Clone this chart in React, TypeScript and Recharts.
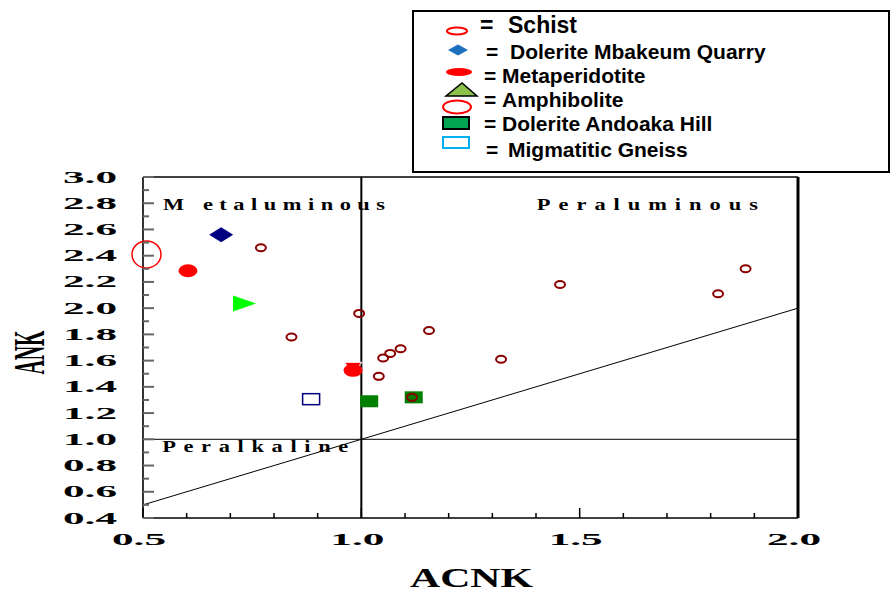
import React from 'react';
import {
  ScatterChart,
  Scatter,
  XAxis,
  YAxis,
  ReferenceLine,
  ReferenceDot,
} from 'recharts';

// ACNK vs ANK values
const schist = [
  { acnk: 0.77, ank: 2.46 },
  { acnk: 0.84, ank: 1.78 },
  { acnk: 0.995, ank: 1.96 },
  { acnk: 1.04, ank: 1.48 },
  { acnk: 1.05, ank: 1.62 },
  { acnk: 1.066, ank: 1.655 },
  { acnk: 1.09, ank: 1.69 },
  { acnk: 1.155, ank: 1.83 },
  { acnk: 1.116, ank: 1.32 },
  { acnk: 1.32, ank: 1.61 },
  { acnk: 1.455, ank: 2.18 },
  { acnk: 1.817, ank: 2.11 },
  { acnk: 1.88, ank: 2.3 },
];
const doleriteMbakeum = [{ acnk: 0.679, ank: 2.56 }];
const metaperidotite = [
  { acnk: 0.603, ank: 2.285 },
  { acnk: 0.981, ank: 1.526 },
];
const downTriangle = [{ acnk: 0.981, ank: 1.526 }];
const amphibolite = [{ acnk: 0.729, ank: 2.035 }];
const openEllipse = [{ acnk: 0.508, ank: 2.41 }];
const doleriteAndoaka = [
  { acnk: 1.018, ank: 1.29 },
  { acnk: 1.12, ank: 1.32 },
];
const migmatiticGneiss = [{ acnk: 0.885, ank: 1.306 }];

const xTicks = [0.5, 0.6, 0.7, 0.8, 0.9, 1.0, 1.1, 1.2, 1.3, 1.4, 1.5, 1.6, 1.7, 1.8, 1.9, 2.0];
const yTicks = [
  0.4, 0.5, 0.6, 0.7, 0.8, 0.9, 1.0, 1.1, 1.2, 1.3, 1.4, 1.5, 1.6, 1.7,
  1.8, 1.9, 2.0, 2.1, 2.2, 2.3, 2.4, 2.5, 2.6, 2.7, 2.8, 2.9, 3.0,
];
const boundary = [0.5, 2.0];

const SERIF = '"Liberation Serif", "Times New Roman", serif';
const SANS = '"Liberation Sans", Arial, sans-serif';

const LeftTick = (props: any) => {
  const { x, y, payload } = props;
  const v = payload.value;
  const major = Math.round(v * 10) % 2 === 0;
  return (
    <g>
      <line x1={x} y1={y} x2={x + (major ? 11 : 6)} y2={y} stroke="#666" strokeWidth={2} />
      {major && (
        <text
          x={x - 26}
          y={y + 5.5}
          textAnchor="end"
          textLength={54}
          lengthAdjust="spacingAndGlyphs"
          fontFamily={SERIF}
          fontWeight="bold"
          fontSize={16.5}
          fill="#000"
        >
          {v.toFixed(1)}
        </text>
      )}
    </g>
  );
};

const RightTick = (props: any) => {
  const { x, y, payload } = props;
  const major = Math.round(payload.value * 10) % 2 === 0;
  return <line x1={x} y1={y} x2={x - (major ? 12 : 6)} y2={y} stroke="#777" strokeWidth={2} />;
};

const BottomTick = (props: any) => {
  const { x, y, payload } = props;
  const v = payload.value;
  const major = Math.round(v * 10) % 5 === 0;
  return (
    <g>
      <line x1={x} y1={y} x2={x} y2={y - (major ? 10 : 5)} stroke="#000" strokeWidth={1.5} />
      {major && (
        <text
          x={x - 4}
          y={y + 27}
          textAnchor="middle"
          textLength={54}
          lengthAdjust="spacingAndGlyphs"
          fontFamily={SERIF}
          fontWeight="bold"
          fontSize={17}
          fill="#000"
        >
          {v.toFixed(1)}
        </text>
      )}
    </g>
  );
};

const TopTick = (props: any) => {
  const { x, y } = props;
  return <line x1={x} y1={y} x2={x} y2={y + 4} stroke="#000" strokeWidth={1.5} />;
};

const YTitle = (props: any) => {
  const { viewBox } = props;
  const cx = viewBox.x - 54;
  const cy = viewBox.y + viewBox.height / 2 + 5;
  return (
    <text
      x={cx}
      y={cy}
      transform={`rotate(-90 ${cx} ${cy})`}
      textAnchor="middle"
      dominantBaseline="central"
      textLength={44}
      lengthAdjust="spacingAndGlyphs"
      fontFamily={SERIF}
      fontWeight="bold"
      fontSize={44}
      fill="#000"
    >
      ANK
    </text>
  );
};

const XTitle = (props: any) => {
  const { viewBox } = props;
  return (
    <text
      x={viewBox.x + viewBox.width / 2 + 1}
      y={viewBox.y + 69}
      textAnchor="middle"
      textLength={123}
      lengthAdjust="spacingAndGlyphs"
      fontFamily={SERIF}
      fontWeight="bold"
      fontSize={27}
      fill="#000"
    >
      ACNK
    </text>
  );
};

// wide, letter-spaced region names
const STRETCH = 1.4;
const regionLabel = (text: string, len: number) => (props: any) => (
  <text
    x={0}
    y={0}
    transform={`translate(${props.cx},${props.cy}) scale(${STRETCH},1)`}
    textLength={len / STRETCH}
    lengthAdjust="spacing"
    fontFamily={SERIF}
    fontWeight="bold"
    fontSize={16}
    fill="#000"
  >
    {text}
  </text>
);

const SchistDot = (p: any) => (
  <ellipse cx={p.cx} cy={p.cy} rx={5} ry={3.5} fill="none" stroke="#8b0000" strokeWidth={2} />
);
const Diamond = (p: any) => (
  <polygon
    points={`${p.cx - 12},${p.cy} ${p.cx},${p.cy - 7.5} ${p.cx + 12},${p.cy} ${p.cx},${p.cy + 7.5}`}
    fill="#000080"
  />
);
const RedBlob = (p: any) => <ellipse cx={p.cx} cy={p.cy} rx={9.5} ry={6.5} fill="#ff0000" />;
const RedDown = (p: any) => (
  <polygon
    points={`${p.cx - 9},${p.cy - 8} ${p.cx + 9},${p.cy - 8} ${p.cx},${p.cy + 2}`}
    fill="#ff0000"
    stroke="#fff"
    strokeWidth={1}
  />
);
const GreenArrow = (p: any) => (
  <polygon
    points={`${p.cx - 10},${p.cy - 8} ${p.cx + 13},${p.cy} ${p.cx - 10},${p.cy + 8}`}
    fill="#00ff00"
  />
);
const BigCircle = (p: any) => (
  <ellipse cx={p.cx} cy={p.cy} rx={14.5} ry={13.5} fill="none" stroke="#ff0000" strokeWidth={1.5} />
);
const GreenBox = (p: any) => (
  <rect x={p.cx - 9} y={p.cy - 6} width={18} height={12} fill="#008000" />
);
const OpenBox = (p: any) => (
  <rect x={p.cx - 8.5} y={p.cy - 5.5} width={17} height={11} fill="#fff" stroke="#000080" strokeWidth={1.5} />
);

function KeyBox() {
  const t = { fontFamily: SANS, fontWeight: 'bold' as const, fill: '#000' };
  return (
    <svg
      width={891}
      height={180}
      style={{ position: 'absolute', left: 0, top: 0, pointerEvents: 'none' }}
    >
      <rect x={413} y={11} width={476} height={161} fill="#fff" stroke="#000" strokeWidth={2} />
      <ellipse cx={457} cy={31} rx={10} ry={3.5} fill="none" stroke="#ff0000" strokeWidth={2} />
      <text x={480} y={33} fontSize={23} {...t}>=</text>
      <text x={508} y={33} fontSize={23} {...t}>Schist</text>

      <polygon points="448,50 458,44.5 468,50 458,55.5" fill="#1f6fbf" />
      <text x={486} y={59} fontSize={21} {...t}>=</text>
      <text x={510} y={59} fontSize={21} {...t}>Dolerite Mbakeum Quarry</text>

      <ellipse cx={459} cy={72} rx={13} ry={4} fill="#ff0000" />
      <text x={484} y={83} fontSize={21} {...t}>=</text>
      <text x={502} y={83} fontSize={21} {...t}>Metaperidotite</text>

      <polygon points="446,96 477,96 462,83" fill="#8bc34a" stroke="#000" strokeWidth={1.5} />
      <ellipse cx={457} cy={107} rx={14} ry={6.5} fill="none" stroke="#ff0000" strokeWidth={2} />
      <text x={484} y={107} fontSize={21} {...t}>=</text>
      <text x={502} y={107} fontSize={21} {...t}>Amphibolite</text>

      <rect x={443} y={117} width={26} height={12} fill="#00a651" stroke="#000" strokeWidth={2} />
      <text x={484} y={131} fontSize={21} {...t}>=</text>
      <text x={502} y={131} fontSize={21} {...t}>Dolerite Andoaka Hill</text>

      <rect x={443} y={137} width={26} height={11} fill="#fff" stroke="#00b0f0" strokeWidth={2} />
      <text x={486} y={157} fontSize={21} {...t}>=</text>
      <text x={508} y={157} fontSize={21} {...t}>Migmatitic Gneiss</text>
    </svg>
  );
}

export default function App() {
  return (
    <div style={{ position: 'absolute', left: 0, top: 0, width: 891, height: 592, background: '#fff' }}>
      <ScatterChart width={891} height={592} margin={{ top: 167, right: 83, bottom: 44, left: 83 }}>
        <XAxis
          type="number"
          dataKey="acnk"
          domain={[0.5, 2.0]}
          ticks={xTicks}
          interval={0}
          height={30}
          tickSize={0}
          tickMargin={0}
          tickLine={false}
          tick={<BottomTick />}
          axisLine={{ stroke: '#000', strokeWidth: 1.5 }}
          label={<XTitle />}
        />
        <XAxis
          xAxisId="top"
          orientation="top"
          type="number"
          domain={[0.5, 2.0]}
          ticks={xTicks}
          interval={0}
          height={10}
          tickSize={0}
          tickMargin={0}
          tickLine={false}
          tick={<TopTick />}
          axisLine={{ stroke: '#000', strokeWidth: 1.5 }}
        />
        <YAxis
          type="number"
          dataKey="ank"
          domain={[0.4, 3.0]}
          ticks={yTicks}
          interval={0}
          width={60}
          tickSize={0}
          tickMargin={0}
          tickLine={false}
          tick={<LeftTick />}
          axisLine={{ stroke: '#333', strokeWidth: 2 }}
          label={<YTitle />}
        />
        <YAxis
          yAxisId="right"
          orientation="right"
          type="number"
          domain={[0.4, 3.0]}
          ticks={yTicks}
          interval={0}
          width={10}
          tickSize={0}
          tickMargin={0}
          tickLine={false}
          tick={<RightTick />}
          axisLine={{ stroke: '#000', strokeWidth: 3 }}
        />

        <ReferenceLine y={1} stroke="#000" strokeWidth={1} />
        <ReferenceLine x={1} stroke="#000" strokeWidth={2} />
        <ReferenceLine
          segment={[
            { x: boundary[0], y: boundary[0] },
            { x: boundary[1], y: boundary[1] },
          ]}
          stroke="#000"
          strokeWidth={1}
        />

        <ReferenceDot x={0.546} y={2.75} r={0} shape={regionLabel('M etaluminous', 222)} />
        <ReferenceDot x={1.402} y={2.75} r={0} shape={regionLabel('Peraluminous', 221)} />
        <ReferenceDot x={0.544} y={0.9} r={0} shape={regionLabel('Peralkaline', 186)} />

        <Scatter name="Amphibolite" data={openEllipse} shape={BigCircle} isAnimationActive={false} />
        <Scatter name="Amphibolite" data={amphibolite} shape={GreenArrow} isAnimationActive={false} />
        <Scatter name="Dolerite Mbakeum Quarry" data={doleriteMbakeum} shape={Diamond} isAnimationActive={false} />
        <Scatter name="Dolerite Andoaka Hill" data={doleriteAndoaka} shape={GreenBox} isAnimationActive={false} />
        <Scatter name="Migmatitic Gneiss" data={migmatiticGneiss} shape={OpenBox} isAnimationActive={false} />
        <Scatter data={downTriangle} shape={RedDown} isAnimationActive={false} />
        <Scatter name="Metaperidotite" data={metaperidotite} shape={RedBlob} isAnimationActive={false} />
        <Scatter name="Schist" data={schist} shape={SchistDot} isAnimationActive={false} />
      </ScatterChart>
      <KeyBox />
    </div>
  );
}
